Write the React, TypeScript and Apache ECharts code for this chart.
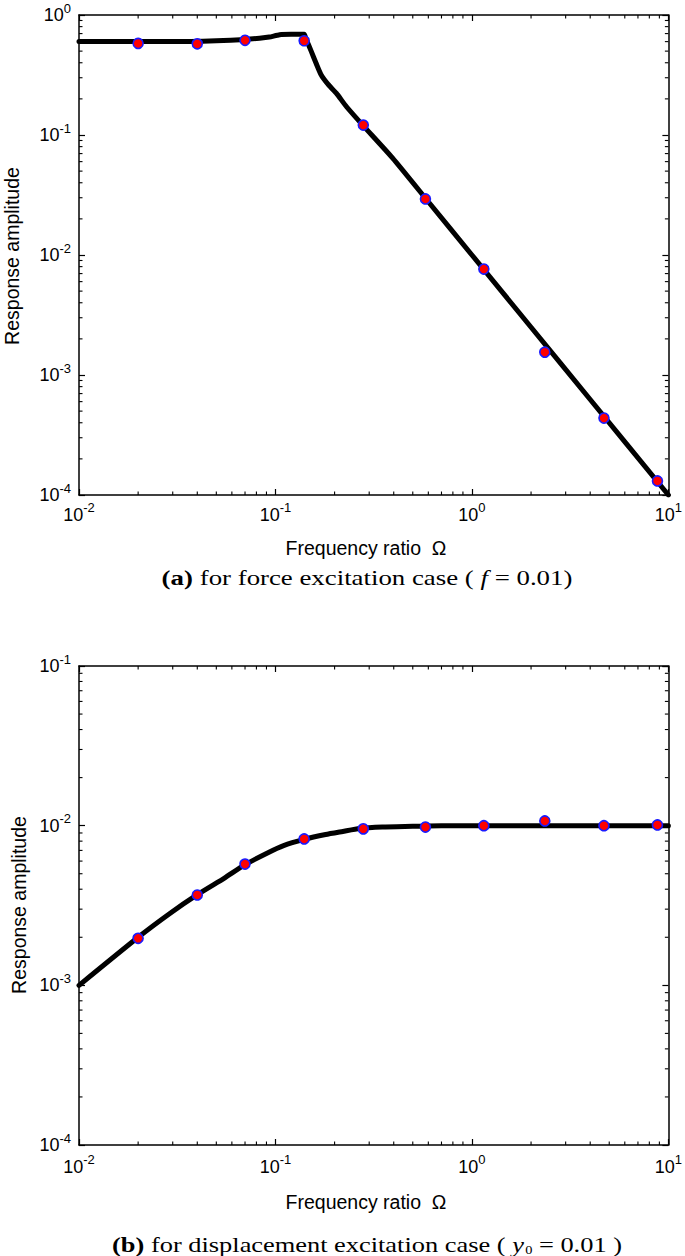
import React, { useEffect, useRef } from "react";
import * as echarts from "echarts";

// ---- data ----
const markerX = [0.02, 0.04, 0.07, 0.14, 0.28, 0.58, 1.15, 2.35, 4.7, 8.8];
const forceMarkerY = [0.58, 0.575, 0.615, 0.61, 0.121, 0.0293, 0.00764, 0.00155, 0.000438, 0.000131];
const dispMarkerY = [0.00197, 0.00368, 0.00575, 0.00826, 0.00955, 0.0098, 0.01, 0.0107, 0.01, 0.0101];

const forceCurveX = [0.01, 0.02, 0.03, 0.05, 0.07, 0.083, 0.093, 0.105, 0.12, 0.14, 0.143, 0.147, 0.152, 0.161, 0.171, 0.185, 0.204, 0.23, 0.278, 0.394, 0.6, 1, 2, 4, 10];
const forceCurveY = [0.6, 0.6, 0.6, 0.61, 0.625, 0.64, 0.655, 0.685, 0.69, 0.69, 0.63, 0.57, 0.5, 0.396, 0.316, 0.265, 0.223, 0.172, 0.121, 0.0645, 0.0278, 0.01, 0.0025, 0.000625, 0.0001];

const dispCurveX = [0.01, 0.02, 0.029, 0.04, 0.055, 0.07, 0.09, 0.11, 0.14, 0.18, 0.22, 0.268, 0.35, 0.5, 0.7, 1, 10];
const dispCurveY = [0.001, 0.002, 0.00282, 0.0037, 0.0047, 0.0057, 0.0067, 0.0075, 0.0082, 0.0088, 0.0092, 0.0096, 0.0098, 0.0099, 0.01, 0.01, 0.01];

const xRange = [0.01, 10];
const forceYRange = [1e-4, 1];
const dispYRange = [1e-4, 1e-1];

const xMinorDecades = [-2, -1, 0];
const forceYMinorDecades = [-4, -3, -2, -1];
const dispYMinorDecades = [-4, -3, -2];

const SANS = "Liberation Sans";
const SERIF = "Liberation Serif";

function minorValues(decades: number[]) {
  const out: number[] = [];
  decades.forEach((d) => {
    for (let k = 2; k <= 9; k++) out.push(k * Math.pow(10, d));
  });
  return out;
}

const tickLabel = (v: number) => {
  const e = Math.round(Math.log10(v));
  return `{b|10}{s|${e}}`;
};
const richSup = {
  b: { fontSize: 18, fontFamily: SANS, color: "#000" },
  s: { fontSize: 13, fontFamily: SANS, color: "#000", padding: [0, 0, 14, 0] },
};

export default function App() {
  const ref = useRef<HTMLDivElement>(null);
  useEffect(() => {
    document.body.style.margin = "0";
    const chart = echarts.init(ref.current!, undefined, { renderer: "svg" });

    const axisLine = { show: true, onZero: false, lineStyle: { color: "#000", width: 1.5 } };
    const axisTick = { show: true, inside: true, length: 6, lineStyle: { color: "#000", width: 1.2 } };

    const mkX = (gridIndex: number, pos: "bottom" | "top", margin: number) => ({
      type: "log",
      logBase: 10,
      gridIndex,
      position: pos,
      min: xRange[0],
      max: xRange[1],
      axisLine,
      axisTick,
      splitLine: { show: false },
      axisLabel: pos === "bottom"
        ? { show: true, formatter: tickLabel, rich: richSup, margin, fontSize: 18, fontFamily: SANS, color: "#000" }
        : { show: false },
    });
    const mkY = (gridIndex: number, pos: "left" | "right", range: number[]) => ({
      type: "log",
      logBase: 10,
      gridIndex,
      position: pos,
      min: range[0],
      max: range[1],
      axisLine,
      axisTick,
      splitLine: { show: false },
      axisLabel: pos === "left"
        ? { show: true, formatter: tickLabel, rich: richSup, margin: 8, fontSize: 18, fontFamily: SANS, color: "#000" }
        : { show: false },
    });

    const minorSeries = (xIdx: number, yIdx: number, yRange: number[], yDecades: number[]) => {
      const data: number[][] = [];
      minorValues(xMinorDecades).forEach((v) => data.push([v, yRange[0], 0]));
      minorValues(yDecades).forEach((v) => data.push([xRange[0], v, 1]));
      return {
        type: "custom",
        xAxisIndex: xIdx,
        yAxisIndex: yIdx,
        clip: false,
        silent: true,
        encode: { x: 0, y: 1 },
        data,
        renderItem: (params: any, api: any) => {
          const v0 = api.value(0);
          const v1 = api.value(1);
          const kind = api.value(2);
          const L = 3.5;
          const st = { stroke: "#000", lineWidth: 1.1 };
          if (kind === 0) {
            const b = api.coord([v0, yRange[0]]);
            const t = api.coord([v0, yRange[1]]);
            return {
              type: "group",
              children: [
                { type: "line", shape: { x1: b[0], y1: b[1], x2: b[0], y2: b[1] - L }, style: st },
                { type: "line", shape: { x1: t[0], y1: t[1], x2: t[0], y2: t[1] + L }, style: st },
              ],
            };
          }
          const l = api.coord([xRange[0], v1]);
          const r = api.coord([xRange[1], v1]);
          return {
            type: "group",
            children: [
              { type: "line", shape: { x1: l[0], y1: l[1], x2: l[0] + L, y2: l[1] }, style: st },
              { type: "line", shape: { x1: r[0], y1: r[1], x2: r[0] - L, y2: r[1] }, style: st },
            ],
          };
        },
      };
    };

    const lineSeries = (xIdx: number, yIdx: number, xs: number[], ys: number[]) => ({
      type: "line",
      xAxisIndex: xIdx,
      yAxisIndex: yIdx,
      data: xs.map((x, i) => [x, ys[i]]),
      showSymbol: false,
      symbol: "none",
      smooth: 0.2,
      lineStyle: { color: "#000", width: 5, cap: "round", join: "round" },
      z: 3,
    });
    const markerSeries = (xIdx: number, yIdx: number, ys: number[]) => ({
      type: "scatter",
      xAxisIndex: xIdx,
      yAxisIndex: yIdx,
      data: markerX.map((x, i) => [x, ys[i]]),
      symbol: "circle",
      symbolSize: 10,
      itemStyle: { color: "#ff0000", borderColor: "#1a1aff", borderWidth: 1.6, opacity: 1 },
      z: 4,
    });

    const center = { align: "center", verticalAlign: "middle", textAlign: "center", textVerticalAlign: "middle" };
    const sansLabel = (text: string) => ({ fill: "#000", text, fontSize: 19.5, fontFamily: SANS, ...center });
    const capRich = {
      bd: { fontFamily: SERIF, fontSize: 22, fontWeight: "bold", fill: "#000" },
      n: { fontFamily: SERIF, fontSize: 22, fill: "#000" },
      it: { fontFamily: SERIF, fontSize: 22, fontStyle: "italic", fill: "#000" },
      sub: { fontFamily: SERIF, fontSize: 12, fill: "#000", padding: [11, 0, 0, 1] },
    };

    chart.setOption({
      animation: false,
      backgroundColor: "#fff",
      grid: [
        { left: 79, top: 15, width: 590, height: 480, containLabel: false },
        { left: 79, top: 666, width: 590, height: 479, containLabel: false },
      ],
      xAxis: [mkX(0, "bottom", 6), mkX(0, "top", 0), mkX(1, "bottom", 8), mkX(1, "top", 0)],
      yAxis: [mkY(0, "left", forceYRange), mkY(0, "right", forceYRange), mkY(1, "left", dispYRange), mkY(1, "right", dispYRange)],
      series: [
        minorSeries(0, 0, forceYRange, forceYMinorDecades),
        minorSeries(2, 2, dispYRange, dispYMinorDecades),
        lineSeries(0, 0, forceCurveX, forceCurveY),
        markerSeries(0, 0, forceMarkerY),
        lineSeries(2, 2, dispCurveX, dispCurveY),
        markerSeries(2, 2, dispMarkerY),
      ],
      graphic: [
        { type: "text", x: 12, y: 256, rotation: Math.PI / 2, style: sansLabel("Response amplitude") },
        { type: "text", x: 19, y: 905, rotation: Math.PI / 2, style: sansLabel("Response amplitude") },
        { type: "text", x: 366, y: 548, style: sansLabel("Frequency ratio  Ω") },
        { type: "text", x: 366, y: 1202, style: sansLabel("Frequency ratio  Ω") },
        {
          type: "text", x: 367, y: 577, scaleX: 1.22,
          style: {
            fill: "#000",
            text: "{bd|(a)}{n| for force excitation case ( }{it|f}{n| = 0.01)}",
            fontSize: 22, fontFamily: SERIF,
            ...center,
            rich: capRich,
          },
        },
        {
          type: "text", x: 367, y: 1244, scaleX: 1.2,
          style: {
            fill: "#000",
            text: "{bd|(b)}{n| for displacement excitation case ( }{it|y}{sub|0}{n| = 0.01 )}",
            fontSize: 22, fontFamily: SERIF,
            ...center,
            rich: capRich,
          },
        },
      ],
    });
    return () => chart.dispose();
  }, []);
  return <div ref={ref} style={{ width: 685, height: 1256 }} />;
}
